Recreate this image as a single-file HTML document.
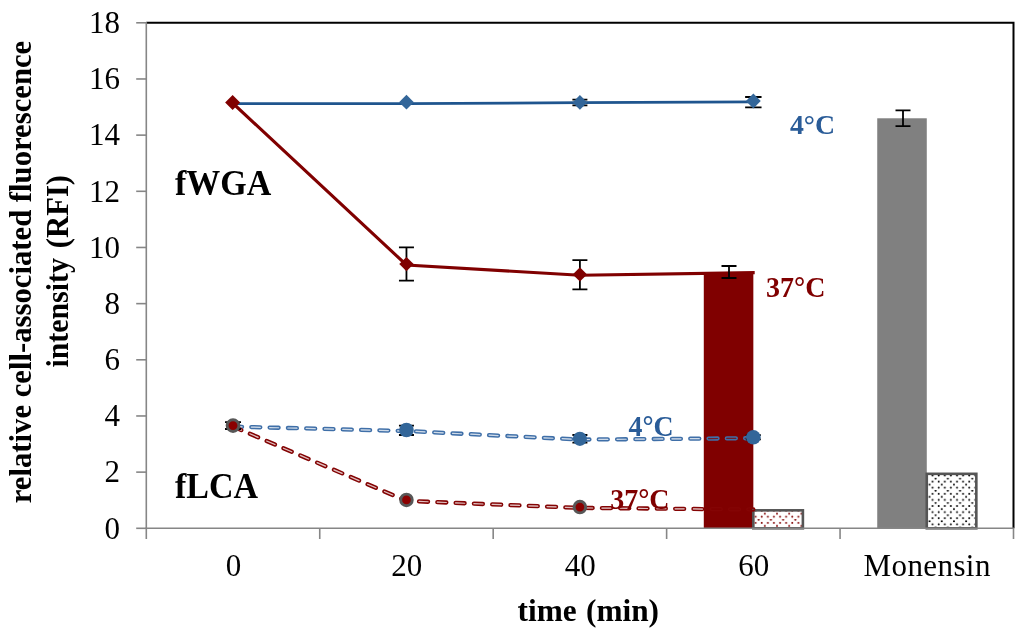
<!DOCTYPE html><html><head><meta charset="utf-8"><style>html,body{margin:0;padding:0;background:#fff;}svg{display:block;will-change:transform}text{font-family:"Liberation Serif",serif}</style></head><body>
<svg width="1024" height="633" viewBox="0 0 1024 633">
<defs>
<pattern id="pr" patternUnits="userSpaceOnUse" width="12.2" height="12.2" x="752.6" y="506.9"><rect width="12.2" height="12.2" fill="#fff"/><circle cx="6.1" cy="0.75" r="1.0" fill="#800000"/><circle cx="3.05" cy="3.8" r="1.0" fill="#800000"/><circle cx="9.15" cy="3.8" r="1.0" fill="#800000"/><circle cx="0" cy="6.85" r="1.0" fill="#800000"/><circle cx="12.2" cy="6.85" r="1.0" fill="#800000"/><circle cx="3.05" cy="9.9" r="1.0" fill="#800000"/><circle cx="9.15" cy="9.9" r="1.0" fill="#800000"/></pattern>
<pattern id="pk" patternUnits="userSpaceOnUse" width="12.2" height="12.2" x="929.55" y="477.85"><rect width="12.2" height="12.2" fill="#fff"/><circle cx="6.1" cy="0.75" r="1.0" fill="#000"/><circle cx="3.05" cy="3.8" r="1.0" fill="#000"/><circle cx="9.15" cy="3.8" r="1.0" fill="#000"/><circle cx="0" cy="6.85" r="1.0" fill="#000"/><circle cx="12.2" cy="6.85" r="1.0" fill="#000"/><circle cx="3.05" cy="9.9" r="1.0" fill="#000"/><circle cx="9.15" cy="9.9" r="1.0" fill="#000"/></pattern>
</defs>
<rect width="1024" height="633" fill="#fff"/>
<path d="M146.3 22.8 H1013.5 V528.3" fill="none" stroke="#000" stroke-width="2"/>
<rect x="703.79" y="273.02" width="49.55" height="255.28" fill="#800000"/>
<rect x="877.23" y="118.28" width="49.55" height="410.02" fill="#808080"/>
<rect x="753.34" y="510.33" width="49.55" height="17.97" fill="url(#pr)" stroke="#555" stroke-width="2.6"/>
<rect x="926.78" y="473.82" width="49.55" height="54.48" fill="url(#pk)" stroke="#555" stroke-width="2.6"/>
<path d="M146.3 22.3 V528.3" stroke="#868686" stroke-width="1.6" fill="none"/>
<path d="M145.5 528.3 H1014.1" stroke="#868686" stroke-width="1.6" fill="none"/>
<path d="M136.2 528.30 H146.3" stroke="#868686" stroke-width="1.6"/>
<path d="M136.2 472.13 H146.3" stroke="#868686" stroke-width="1.6"/>
<path d="M136.2 415.97 H146.3" stroke="#868686" stroke-width="1.6"/>
<path d="M136.2 359.80 H146.3" stroke="#868686" stroke-width="1.6"/>
<path d="M136.2 303.63 H146.3" stroke="#868686" stroke-width="1.6"/>
<path d="M136.2 247.47 H146.3" stroke="#868686" stroke-width="1.6"/>
<path d="M136.2 191.30 H146.3" stroke="#868686" stroke-width="1.6"/>
<path d="M136.2 135.13 H146.3" stroke="#868686" stroke-width="1.6"/>
<path d="M136.2 78.97 H146.3" stroke="#868686" stroke-width="1.6"/>
<path d="M136.2 22.80 H146.3" stroke="#868686" stroke-width="1.6"/>
<path d="M146.30 528.3 V539" stroke="#868686" stroke-width="1.6"/>
<path d="M319.74 528.3 V539" stroke="#868686" stroke-width="1.6"/>
<path d="M493.18 528.3 V539" stroke="#868686" stroke-width="1.6"/>
<path d="M666.62 528.3 V539" stroke="#868686" stroke-width="1.6"/>
<path d="M840.06 528.3 V539" stroke="#868686" stroke-width="1.6"/>
<path d="M1013.50 528.3 V539" stroke="#868686" stroke-width="1.6"/>
<text x="120" y="538.60" font-size="31" text-anchor="end">0</text>
<text x="120" y="482.43" font-size="31" text-anchor="end">2</text>
<text x="120" y="426.27" font-size="31" text-anchor="end">4</text>
<text x="120" y="370.10" font-size="31" text-anchor="end">6</text>
<text x="120" y="313.93" font-size="31" text-anchor="end">8</text>
<text x="120" y="257.77" font-size="31" text-anchor="end">10</text>
<text x="120" y="201.60" font-size="31" text-anchor="end">12</text>
<text x="120" y="145.43" font-size="31" text-anchor="end">14</text>
<text x="120" y="89.27" font-size="31" text-anchor="end">16</text>
<text x="120" y="33.10" font-size="31" text-anchor="end">18</text>
<text x="233.42" y="576.3" font-size="31" text-anchor="middle">0</text>
<text x="406.86" y="576.3" font-size="31" text-anchor="middle">20</text>
<text x="580.30" y="576.3" font-size="31" text-anchor="middle">40</text>
<text x="753.74" y="576.3" font-size="31" text-anchor="middle">60</text>
<text x="927.18" y="576.3" font-size="31" text-anchor="middle" letter-spacing="0.4">Monensin</text>
<text x="517.6" y="620.6" font-size="31.3" font-weight="bold">time</text>
<text x="659" y="620.6" font-size="31.3" font-weight="bold" text-anchor="end">(min)</text>
<text transform="translate(30.5 272) rotate(-90)" font-size="30.7" font-weight="bold" text-anchor="middle">relative cell-associated fluorescence</text>
<text transform="translate(67.9 367.6) rotate(-90) scale(0.973 1)" font-size="30.7" font-weight="bold">intensity</text>
<text transform="translate(67.9 174.9) rotate(-90)" font-size="30.7" font-weight="bold" text-anchor="end">(RFI)</text>
<mask id="hm1" maskUnits="userSpaceOnUse" x="0" y="0" width="1024" height="633"><rect width="1024" height="633" fill="#fff"/><path d="M233.02 426.60 L406.46 431.00 L579.90 439.60 L753.34 438.20" fill="none" stroke="#000" stroke-width="1.2" stroke-dasharray="9 9.3" stroke-linecap="round" stroke-linejoin="round"/></mask><path d="M233.02 426.60 L406.46 431.00 L579.90 439.60 L753.34 438.20" fill="none" stroke="#3f6fa8" stroke-width="4.3" stroke-dasharray="9 9.3" stroke-linecap="round" stroke-linejoin="round" mask="url(#hm1)"/><path d="M233.02 426.60 L406.46 431.00 L579.90 439.60 L753.34 438.20" fill="none" stroke="#3f6fa8" stroke-width="1.3" stroke-dasharray="9 9.3" stroke-linecap="round" stroke-linejoin="round" opacity="0.25"/>
<mask id="hm2" maskUnits="userSpaceOnUse" x="0" y="0" width="1024" height="633"><rect width="1024" height="633" fill="#fff"/><path d="M233.02 426.60 L406.46 500.90 L579.90 507.90 L753.34 509.50" fill="none" stroke="#000" stroke-width="1.2" stroke-dasharray="9 9.3" stroke-linecap="round" stroke-linejoin="round"/></mask><path d="M233.02 426.60 L406.46 500.90 L579.90 507.90 L753.34 509.50" fill="none" stroke="#840404" stroke-width="4.3" stroke-dasharray="9 9.3" stroke-linecap="round" stroke-linejoin="round" mask="url(#hm2)"/><path d="M233.02 426.60 L406.46 500.90 L579.90 507.90 L753.34 509.50" fill="none" stroke="#840404" stroke-width="1.3" stroke-dasharray="9 9.3" stroke-linecap="round" stroke-linejoin="round" opacity="0.25"/>
<path d="M233.02 103.60 L406.46 103.70 L579.90 102.60 L753.34 101.90" fill="none" stroke="#1f558e" stroke-width="2.7"/>
<path d="M232.60 103.00 L406.46 265.00 L579.90 275.20 L754.70 272.60" fill="none" stroke="#800000" stroke-width="3.1"/>
<path d="M579.90 99.60 V105.30 M572.40 99.60 H587.40 M572.40 105.30 H587.40" stroke="#000" stroke-width="1.8" fill="none"/>
<path d="M753.34 97.00 V107.30 M745.14 97.00 H761.54 M745.14 107.30 H761.54" stroke="#000" stroke-width="1.8" fill="none"/>
<path d="M406.46 247.30 V280.70 M398.96 247.30 H413.96 M398.96 280.70 H413.96" stroke="#000" stroke-width="1.8" fill="none"/>
<path d="M579.90 260.20 V289.40 M572.40 260.20 H587.40 M572.40 289.40 H587.40" stroke="#000" stroke-width="1.8" fill="none"/>
<path d="M729.00 266.00 V278.00 M721.50 266.00 H736.50 M721.50 278.00 H736.50" stroke="#000" stroke-width="1.8" fill="none"/>
<path d="M903.00 110.30 V126.10 M895.50 110.30 H910.50 M895.50 126.10 H910.50" stroke="#000" stroke-width="1.8" fill="none"/>
<path d="M406.46 94.80 L413.86 102.20 L406.46 109.60 L399.06 102.20Z" fill="#336699"/>
<path d="M579.90 95.00 L587.30 102.40 L579.90 109.80 L572.50 102.40Z" fill="#336699"/>
<path d="M753.34 93.60 L760.74 101.00 L753.34 108.40 L745.94 101.00Z" fill="#336699"/>
<path d="M406.46 256.90 L413.66 264.10 L406.46 271.30 L399.26 264.10Z" fill="#800000"/>
<path d="M579.90 267.20 L587.10 274.40 L579.90 281.60 L572.70 274.40Z" fill="#800000"/>
<path d="M232.60 94.90 L240.10 102.40 L232.60 109.90 L225.10 102.40Z" fill="#800000"/>
<path d="M233.02 422.20 V429.00 M225.02 422.20 H241.02 M225.02 429.00 H241.02" stroke="#000" stroke-width="1.8" fill="none"/>
<path d="M406.46 425.60 V435.00 M398.96 425.60 H413.96 M398.96 435.00 H413.96" stroke="#000" stroke-width="1.8" fill="none"/>
<path d="M579.90 435.00 V442.60 M572.40 435.00 H587.40 M572.40 442.60 H587.40" stroke="#000" stroke-width="1.8" fill="none"/>
<path d="M753.34 435.20 V439.40 M745.84 435.20 H760.84 M745.84 439.40 H760.84" stroke="#000" stroke-width="1.8" fill="none"/>
<circle cx="406.46" cy="430.00" r="7.3" fill="#336699"/>
<circle cx="579.90" cy="438.80" r="7.1" fill="#336699"/>
<circle cx="753.34" cy="437.30" r="7.3" fill="#336699"/>
<circle cx="233.02" cy="425.60" r="5.9" fill="#8b0000" stroke="#575757" stroke-width="2.9"/>
<circle cx="406.46" cy="499.90" r="5.8" fill="#8b0000" stroke="#575757" stroke-width="2.9"/>
<circle cx="579.90" cy="507.10" r="5.8" fill="#8b0000" stroke="#575757" stroke-width="2.9"/>
<text transform="translate(175 194.9) scale(1 1.06)" font-size="34" font-weight="bold">fWGA</text>
<text transform="translate(175 497.9) scale(1 1.06)" font-size="34" font-weight="bold">fLCA</text>
<text transform="translate(789.9 133.7) scale(1 1.02)" font-size="27.8" font-weight="bold" fill="#2a5c98">4°C</text>
<text transform="translate(628.5 435.9) scale(1 1.04)" font-size="27.8" font-weight="bold" fill="#2a5c98">4°C</text>
<text transform="translate(766.0 296.7) scale(1 1.08)" font-size="28" font-weight="bold" fill="#800000">37°C</text>
<text transform="translate(610.2 509.4) scale(1 1.05)" font-size="28" font-weight="bold" fill="#800000">37°C</text>
</svg></body></html>
